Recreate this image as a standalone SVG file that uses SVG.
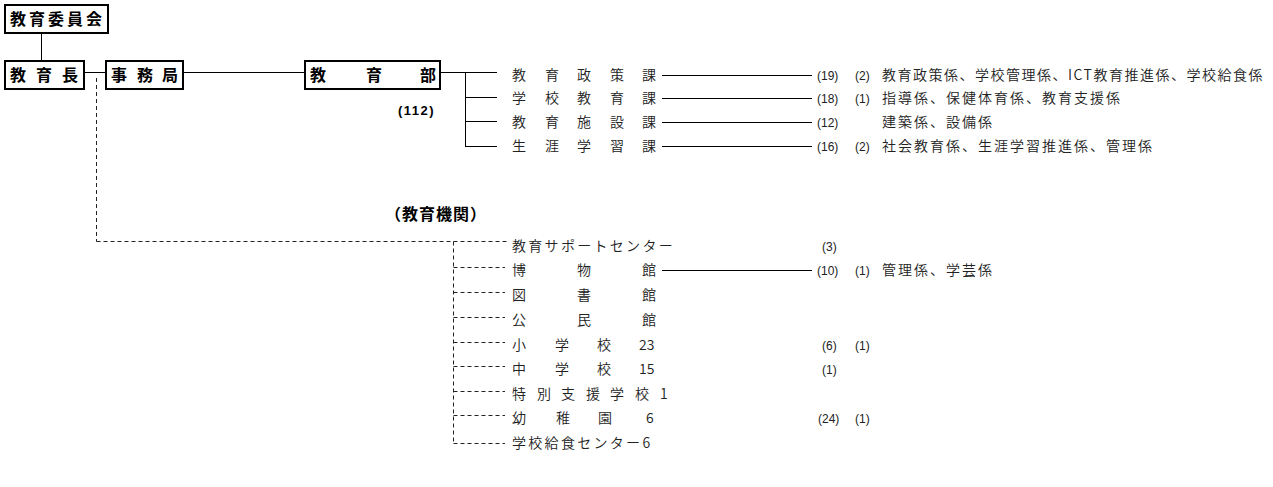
<svg xmlns="http://www.w3.org/2000/svg" width="1273" height="487" viewBox="0 0 1273 487">
<style>
.box{fill:#fff;stroke:#000;stroke-width:2}
.hd{font-family:"Noto Sans CJK JP","Liberation Sans",sans-serif;font-weight:bold;font-size:16px;fill:#000}
.t{font-family:"Noto Sans CJK JP","Liberation Sans",sans-serif;font-size:14px;font-weight:350;fill:#222}
.n{font-family:"Liberation Sans","Noto Sans CJK JP",sans-serif;font-size:12px;fill:#222}
.b{font-family:"Liberation Sans","Noto Sans CJK JP",sans-serif;font-weight:bold;font-size:13px;fill:#000}
.ln{stroke:#000;stroke-width:1;fill:none}
.dl{stroke:#222;stroke-width:1;fill:none;stroke-dasharray:4 3}
</style>
<g id="connectors">
<line class="ln" x1="41.5" y1="33" x2="41.5" y2="61"/>
<line class="ln" x1="84" y1="72.5" x2="106" y2="72.5"/>
<line class="ln" x1="183" y1="72.5" x2="305" y2="72.5"/>
<line class="ln" x1="440" y1="72.5" x2="497" y2="72.5"/>
<line class="ln" x1="465.5" y1="72.5" x2="465.5" y2="146.5"/>
<line class="ln" x1="465" y1="97.5" x2="497" y2="97.5"/>
<line class="ln" x1="465" y1="121.5" x2="497" y2="121.5"/>
<line class="ln" x1="465" y1="146.5" x2="497" y2="146.5"/>
<line class="ln" x1="662" y1="75.5" x2="812" y2="75.5"/>
<line class="ln" x1="662" y1="98.5" x2="812" y2="98.5"/>
<line class="ln" x1="662" y1="122.5" x2="812" y2="122.5"/>
<line class="ln" x1="662" y1="146.5" x2="812" y2="146.5"/>
<line class="ln" x1="662" y1="270.5" x2="812" y2="270.5"/>
<line class="dl" x1="96.5" y1="78" x2="96.5" y2="241.5"/>
<line class="dl" x1="96.5" y1="241.5" x2="507" y2="241.5"/>
<line class="dl" x1="453.5" y1="241.5" x2="453.5" y2="443.5"/>
<line class="dl" x1="453.5" y1="267.5" x2="505" y2="267.5"/>
<line class="dl" x1="453.5" y1="292.5" x2="505" y2="292.5"/>
<line class="dl" x1="453.5" y1="317.5" x2="505" y2="317.5"/>
<line class="dl" x1="453.5" y1="342.5" x2="505" y2="342.5"/>
<line class="dl" x1="453.5" y1="366.5" x2="505" y2="366.5"/>
<line class="dl" x1="453.5" y1="391.5" x2="505" y2="391.5"/>
<line class="dl" x1="453.5" y1="415.5" x2="505" y2="415.5"/>
<line class="dl" x1="453.5" y1="443.5" x2="505" y2="443.5"/>
</g>
<g id="n-iinkai"><rect class="box" x="5" y="5" width="103" height="28"/><text class="hd" x="10 29 48 67 86" y="25">教育委員会</text></g>
<g id="n-kyoikucho"><rect class="box" x="5" y="61" width="79" height="28"/><text class="hd" x="10 36 62" y="81">教育長</text></g>
<g id="n-jimukyoku"><rect class="box" x="106" y="61" width="77" height="28"/><text class="hd" x="111 137 162" y="81">事務局</text></g>
<g id="n-kyoikubu"><rect class="box" x="305" y="61" width="135" height="28"/><text class="hd" x="310 366 420" y="81">教育部</text><text class="b" x="398" y="115" letter-spacing="1.5">(112)</text></g>
<g id="n-seisaku"><text class="t" x="512 545 577 610 642" y="80">教育政策課</text><text class="n" x="817" y="80">(19)</text><text class="n" x="855" y="80">(2)</text><text class="t" x="882" y="80" letter-spacing="1.5">教育政策係、学校管理係、ICT教育推進係、学校給食係</text></g>
<g id="n-gakko"><text class="t" x="512 545 577 610 642" y="103">学校教育課</text><text class="n" x="817" y="103">(18)</text><text class="n" x="855" y="103">(1)</text><text class="t" x="882" y="103" letter-spacing="2">指導係、保健体育係、教育支援係</text></g>
<g id="n-shisetsu"><text class="t" x="512 545 577 610 642" y="127">教育施設課</text><text class="n" x="817" y="127">(12)</text><text class="t" x="882" y="127" letter-spacing="2">建築係、設備係</text></g>
<g id="n-shogai"><text class="t" x="512 545 577 610 642" y="151">生涯学習課</text><text class="n" x="817" y="151">(16)</text><text class="n" x="855" y="151">(2)</text><text class="t" x="882" y="151" letter-spacing="2">社会教育係、生涯学習推進係、管理係</text></g>
<g id="n-kikan"><text class="hd" x="385" y="220" font-size="14" letter-spacing="1">（教育機関）</text></g>
<g id="n-support"><text class="t" x="512" y="251" letter-spacing="2.3">教育サポートセンター</text><text class="n" x="822" y="251">(3)</text></g>
<g id="n-hakubutsu"><text class="t" x="512 577 642" y="275">博物館</text><text class="n" x="817" y="275">(10)</text><text class="n" x="855" y="275">(1)</text><text class="t" x="882" y="275" letter-spacing="2">管理係、学芸係</text></g>
<g id="n-tosho"><text class="t" x="512 577 642" y="300">図書館</text></g>
<g id="n-kominkan"><text class="t" x="512 577 642" y="325">公民館</text></g>
<g id="n-shogakko"><text class="t" x="512 555 597" y="350">小学校</text><text class="t" x="639" y="350" font-family="Liberation Sans,sans-serif" font-size="15">23</text><text class="n" x="822" y="350">(6)</text><text class="n" x="855" y="350">(1)</text></g>
<g id="n-chugakko"><text class="t" x="512 555 597" y="374">中学校</text><text class="t" x="639" y="374" font-family="Liberation Sans,sans-serif" font-size="15">15</text><text class="n" x="822" y="374">(1)</text></g>
<g id="n-tokubetsu"><text class="t" x="512 537 561 586 610 635 660" y="399">特別支援学校1</text></g>
<g id="n-yochien"><text class="t" x="512 556 598" y="423">幼稚園</text><text class="t" x="646" y="423" font-family="Liberation Sans,sans-serif" font-size="15">6</text><text class="n" x="818" y="423">(24)</text><text class="n" x="855" y="423">(1)</text></g>
<g id="n-kyushoku"><text class="t" x="512" y="448" letter-spacing="2.3">学校給食センター6</text></g>
</svg>
